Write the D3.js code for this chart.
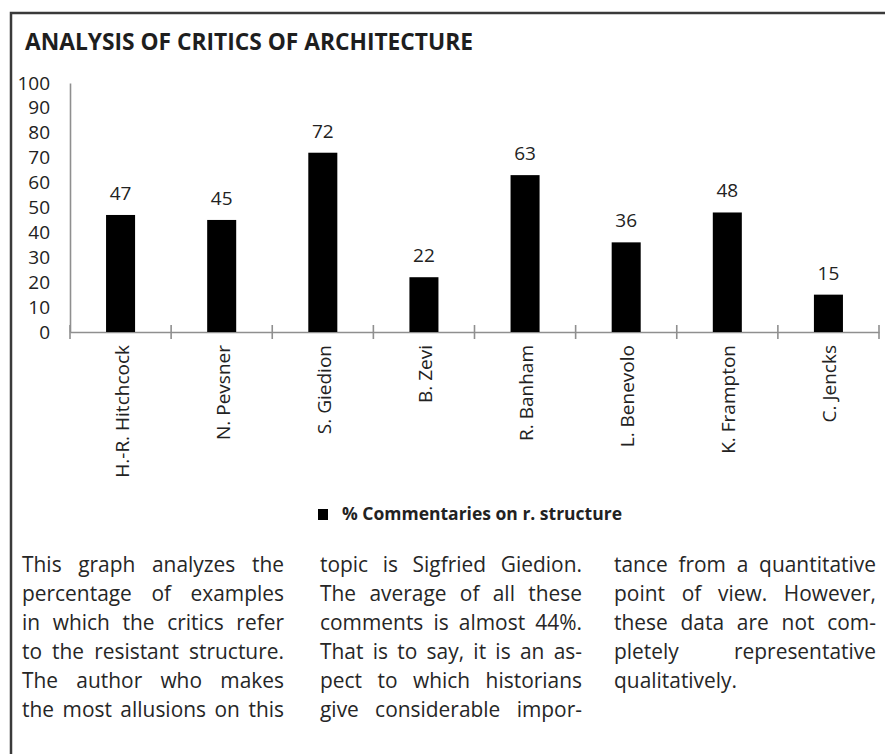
<!DOCTYPE html>
<html>
<head>
<meta charset="utf-8">
<script src="https://cdn.jsdelivr.net/npm/d3@7"></script>
<style>
  html, body { margin: 0; padding: 0; background: #fff; }
  svg { display: block; font-family: "Open Sans", "Noto Sans", sans-serif; }
</style>
</head>
<body>
<svg id="chart" width="885" height="754"></svg>
<script>
// ---------- data ----------
const titleText = "ANALYSIS OF CRITICS OF ARCHITECTURE";
const critics = ["H.-R. Hitchcock", "N. Pevsner", "S. Giedion", "B. Zevi", "R. Banham", "L. Benevolo", "K. Frampton", "C. Jencks"];
const values = [47, 45, 72, 22, 63, 36, 48, 15];
const yTickValues = [0, 10, 20, 30, 40, 50, 60, 70, 80, 90, 100];
const legendLabel = "% Commentaries on r. structure";
const column1 = ["This graph analyzes the", "percentage of examples", "in which the critics refer", "to the resistant structure.", "The author who makes", "the most allusions on this"];
const column2 = ["topic is Sigfried Giedion.", "The average of all these", "comments is almost 44%.", "That is to say, it is an as-", "pect to which historians", "give considerable impor-"];
const column3 = ["tance from a quantitative", "point of view. However,", "these data are not com-", "pletely representative", "qualitatively."];

// ---------- layout ----------
const svg = d3.select("#chart");
const textColor = "#222";
const axisColor = "#8f8f8f";

svg.append("rect").attr("width", 885).attr("height", 754).attr("fill", "#fff");

// frame (top and left edges)
svg.append("path")
  .attr("d", "M11,754 L11,13 L885,13")
  .attr("fill", "none").attr("stroke", "#3a3a3a").attr("stroke-width", 2.5);

// title
svg.append("text")
  .attr("x", 25).attr("y", 50)
  .attr("font-size", 24).attr("font-weight", 700).attr("fill", "#1e1e1e")
  .attr("textLength", 448).attr("lengthAdjust", "spacingAndGlyphs")
  .text(titleText);

// scales
const x = d3.scaleBand().domain(critics).range([70, 879]).paddingInner(0.713).paddingOuter(0.3565);
const y = d3.scaleLinear().domain([0, 100]).range([332, 83]);

// y axis
const yAxis = svg.append("g").attr("transform", "translate(70,0)")
  .call(d3.axisLeft(y).tickValues(yTickValues).tickSize(0).tickSizeOuter(0).tickPadding(20));
yAxis.select(".domain").attr("stroke", axisColor).attr("stroke-width", 1.6);
yAxis.selectAll("text").attr("font-size", 19).attr("fill", textColor)
  .attr("font-family", "'Open Sans', sans-serif");

// x axis
const xAxis = svg.append("g").attr("transform", `translate(0,${y(0)})`)
  .call(d3.axisBottom(x).tickSize(0).tickSizeOuter(0));
xAxis.select(".domain").attr("stroke", axisColor).attr("stroke-width", 1.6);
xAxis.selectAll(".tick text")
  .attr("font-size", 19).attr("fill", textColor)
  .attr("font-family", "'Open Sans', sans-serif")
  .attr("text-anchor", "end")
  .attr("transform", "rotate(-90)")
  .attr("x", -13).attr("y", 0).attr("dy", "0.42em");

// boundary tick marks (crossing the axis)
const boundaries = critics.map(c => x(c) + x.bandwidth() / 2 - x.step() / 2);
boundaries.push(x.range()[1]);
svg.append("g").selectAll("line").data(boundaries).join("line")
  .attr("x1", d => d).attr("x2", d => d)
  .attr("y1", y(0) - 7).attr("y2", y(0) + 7)
  .attr("stroke", axisColor).attr("stroke-width", 1.6);

// bars
const data = critics.map((c, i) => ({ name: c, value: values[i] }));
svg.append("g").selectAll("rect").data(data).join("rect")
  .attr("x", d => x(d.name)).attr("width", x.bandwidth())
  .attr("y", d => y(d.value)).attr("height", d => y(0) - y(d.value))
  .attr("fill", "#000");

// value labels
svg.append("g").selectAll("text").data(data).join("text")
  .attr("x", d => x(d.name) + x.bandwidth() / 2)
  .attr("y", d => y(d.value) - 15)
  .attr("text-anchor", "middle")
  .attr("font-size", 19).attr("fill", textColor)
  .text(d => d.value);

// legend
const legend = svg.append("g");
legend.append("rect").attr("x", 318).attr("y", 509).attr("width", 10).attr("height", 11).attr("fill", "#000");
legend.append("text").attr("x", 342).attr("y", 520)
  .attr("font-size", 17).attr("font-weight", 700).attr("fill", textColor)
  .attr("textLength", 280).attr("lengthAdjust", "spacingAndGlyphs")
  .text(legendLabel);

// body text (justified columns; each line is a horizontally condensed group)
const bodyFs = 22.5;
const lineH = 28.9;
const firstBaseline = 572;
const colW = 262;
const columns = [
  { x: 22, lines: column1, lastIsEnd: false },
  { x: 320, lines: column2, lastIsEnd: false },
  { x: 614, lines: column3, lastIsEnd: true }
];
const body = svg.append("g").attr("font-size", bodyFs).attr("fill", "#262626");
const globalK = 0.93;
const minGap = bodyFs * 0.18;
const normalGap = bodyFs * 0.24;
columns.forEach(col => {
  col.lines.forEach((line, li) => {
    const justify = !(col.lastIsEnd && li === col.lines.length - 1);
    const yy = firstBaseline + li * lineH;
    const words = line.split(" ");
    const g = body.append("g");
    const els = words.map(w => g.append("text").attr("y", 0).text(w));
    const widths = els.map(e => e.node().getComputedTextLength());
    const total = d3.sum(widths);
    const k = Math.min(globalK, colW / (total + minGap * (words.length - 1)));
    const localW = colW / k;
    let gap = normalGap;
    if (justify && words.length > 1) gap = (localW - total) / (words.length - 1);
    let cx = 0;
    els.forEach((e, i) => { e.attr("x", cx); cx += widths[i] + gap; });
    g.attr("transform", `translate(${col.x},${yy}) scale(${k},1)`);
  });
});
</script>
</body>
</html>
